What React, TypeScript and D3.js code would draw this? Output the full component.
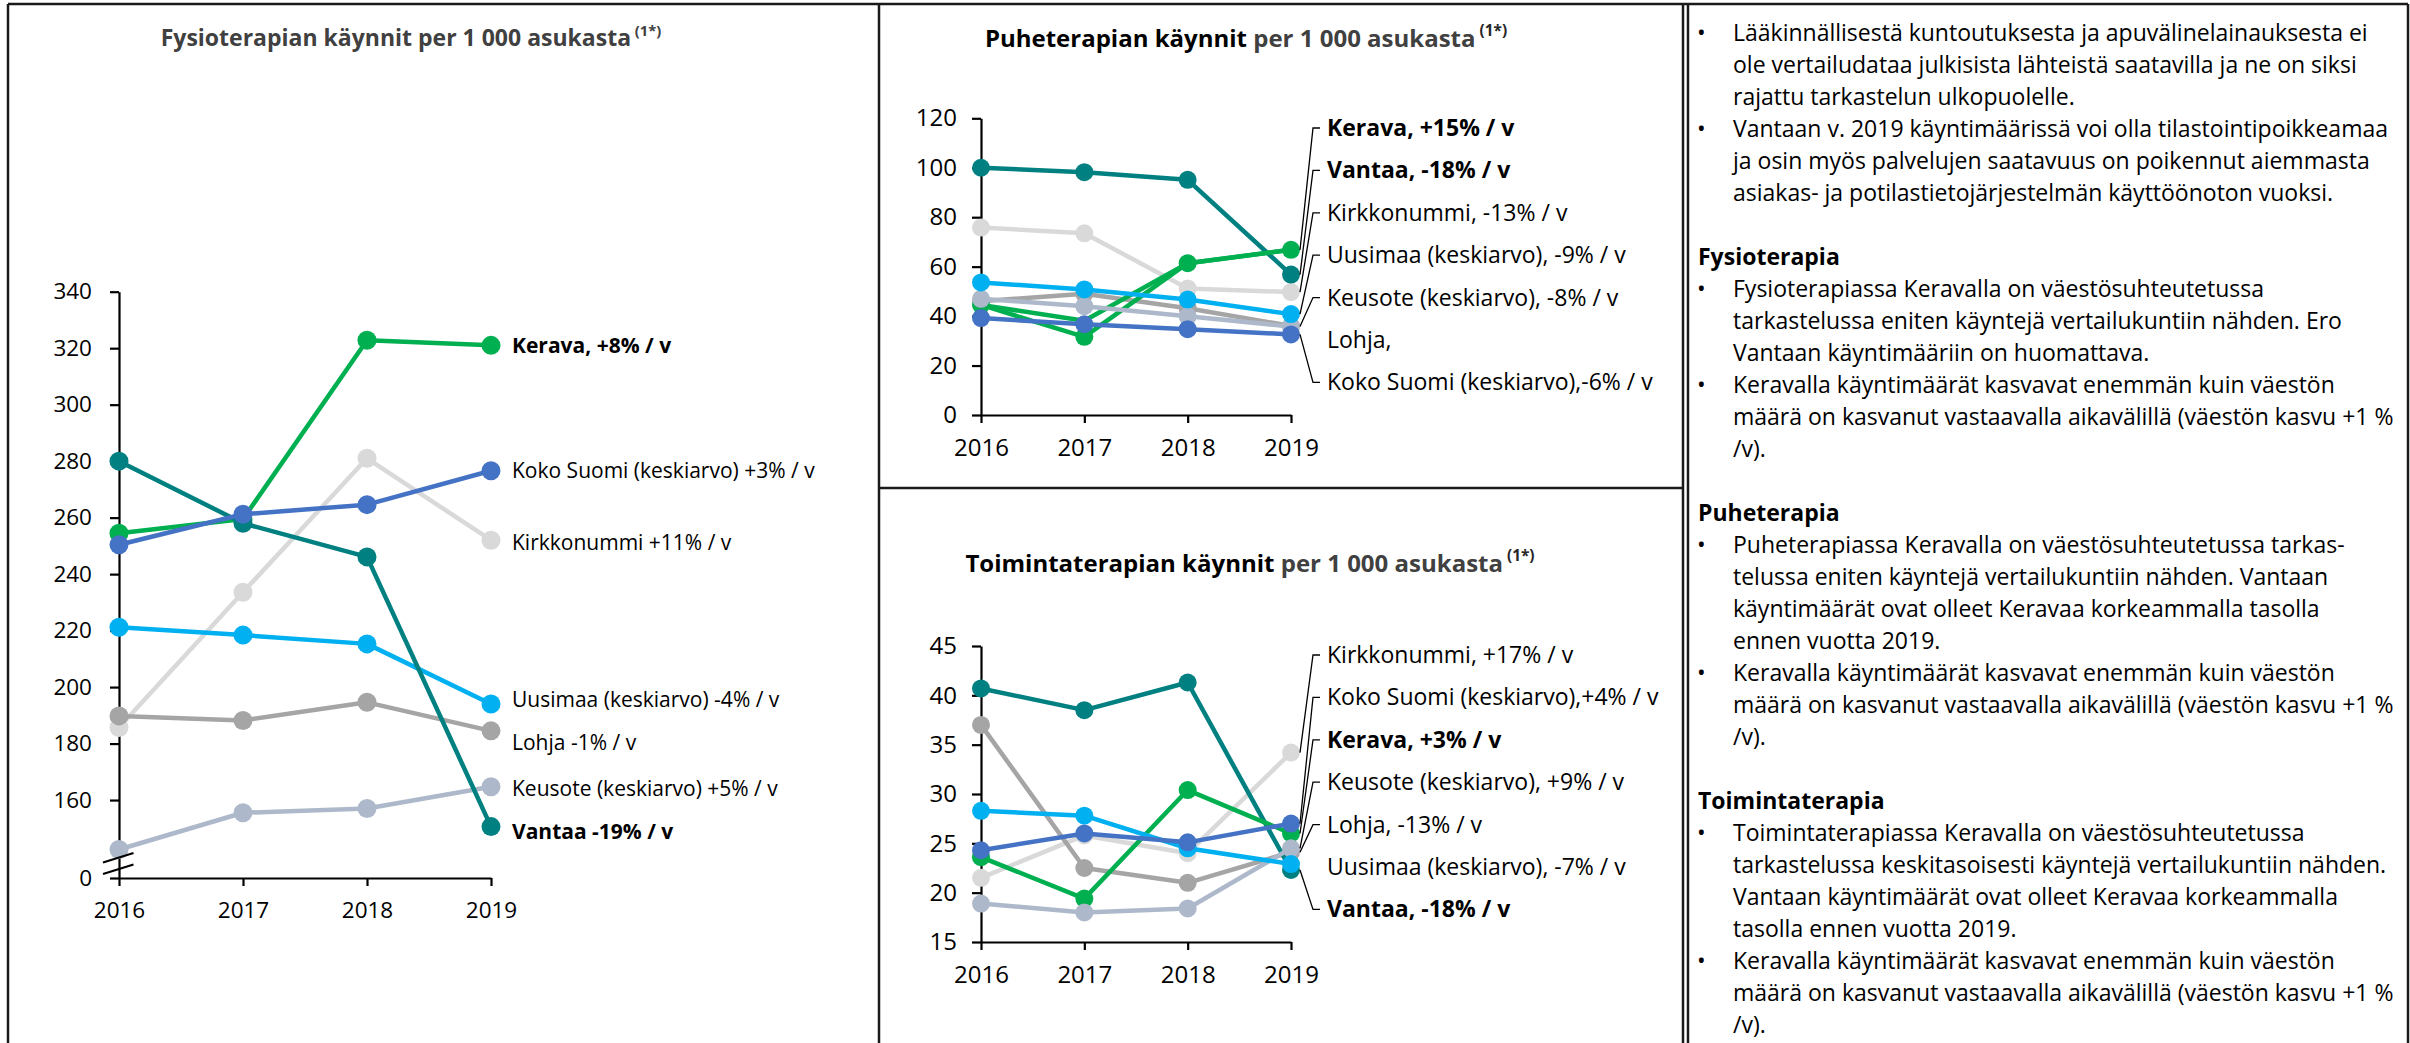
import React, { useEffect, useRef } from 'react';
import * as d3 from 'd3';

// ---------- data ----------
const YEARS = ['2016', '2017', '2018', '2019'];

// Fysioterapian käynnit per 1 000 asukasta
const FYSIO_KERAVA = [254.5, 259.5, 322.8, 321.0];
const FYSIO_KOKO_SUOMI = [250.4, 261.2, 264.6, 276.6];
const FYSIO_KIRKKONUMMI = [185.7, 233.6, 281.0, 252.0];
const FYSIO_UUSIMAA = [221.2, 218.4, 215.3, 194.0];
const FYSIO_LOHJA = [189.8, 188.2, 194.6, 184.5];
const FYSIO_KEUSOTE = [142.5, 155.5, 157.0, 164.7];
const FYSIO_VANTAA = [280.0, 258.0, 246.1, 150.6];
const FYSIO_Y_TICKS = [160, 180, 200, 220, 240, 260, 280, 300, 320, 340];
const FYSIO_Y_BREAK = 132.4; // axis floor, labelled "0" (broken axis)

// Puheterapian käynnit per 1 000 asukasta
const PUHE_KERAVA = [44.5, 31.6, 61.4, 66.8];
const PUHE_KERAVA_B = [44.5, 38.1, 61.4, 66.8];
const PUHE_VANTAA = [100.0, 98.2, 95.1, 56.8];
const PUHE_KIRKKONUMMI = [75.8, 73.5, 51.2, 49.7];
const PUHE_UUSIMAA = [53.6, 50.8, 46.7, 40.8];
const PUHE_KEUSOTE = [47.0, 44.0, 39.9, 35.8];
const PUHE_LOHJA = [46.0, 49.0, 43.2, 36.0];
const PUHE_KOKO_SUOMI = [39.2, 36.7, 34.7, 32.6];
const PUHE_Y_TICKS = [0, 20, 40, 60, 80, 100, 120];

// Toimintaterapian käynnit per 1 000 asukasta
const TOIM_KIRKKONUMMI = [21.5, 25.8, 24.0, 34.2];
const TOIM_KOKO_SUOMI = [24.3, 26.0, 25.1, 27.0];
const TOIM_KERAVA = [23.6, 19.4, 30.4, 26.0];
const TOIM_KEUSOTE = [18.9, 18.0, 18.4, 24.5];
const TOIM_LOHJA = [37.0, 22.5, 21.0, 24.1];
const TOIM_UUSIMAA = [28.3, 27.8, 24.5, 22.9];
const TOIM_VANTAA = [40.7, 38.5, 41.3, 22.3];
const TOIM_Y_TICKS = [15, 20, 25, 30, 35, 40, 45];

// series labels
const FYSIO_LABELS = {
  Kerava: 'Kerava, +8% / v',
  Koko: 'Koko Suomi (keskiarvo) +3% / v',
  Kirkkonummi: 'Kirkkonummi +11% / v',
  Uusimaa: 'Uusimaa (keskiarvo) -4% / v',
  Lohja: 'Lohja -1% / v',
  Keusote: 'Keusote (keskiarvo) +5% / v',
  Vantaa: 'Vantaa -19% / v',
};
const PUHE_LABELS = [
  'Kerava, +15% / v',
  'Vantaa, -18% / v',
  'Kirkkonummi, -13% / v',
  'Uusimaa (keskiarvo), -9% / v',
  'Keusote (keskiarvo), -8% / v',
  'Lohja,',
  'Koko Suomi (keskiarvo),-6% / v',
];
const TOIM_LABELS = [
  'Kirkkonummi, +17% / v',
  'Koko Suomi (keskiarvo),+4% / v',
  'Kerava, +3% / v',
  'Keusote (keskiarvo), +9% / v',
  'Lohja, -13% / v',
  'Uusimaa (keskiarvo), -7% / v',
  'Vantaa, -18% / v',
];

const NOTES: { t: string; k: 'b' | 'c' | 'h' | 'e' }[] = [
  { t: 'Lääkinnällisestä kuntoutuksesta ja apuvälinelainauksesta ei', k: 'b' },
  { t: 'ole vertailudataa julkisista lähteistä saatavilla ja ne on siksi', k: 'c' },
  { t: 'rajattu tarkastelun ulkopuolelle.', k: 'c' },
  { t: 'Vantaan v. 2019 käyntimäärissä voi olla tilastointipoikkeamaa', k: 'b' },
  { t: 'ja osin myös palvelujen saatavuus on poikennut aiemmasta', k: 'c' },
  { t: 'asiakas- ja potilastietojärjestelmän käyttöönoton vuoksi.', k: 'c' },
  { t: '', k: 'e' },
  { t: 'Fysioterapia', k: 'h' },
  { t: 'Fysioterapiassa Keravalla on väestösuhteutetussa', k: 'b' },
  { t: 'tarkastelussa eniten käyntejä vertailukuntiin nähden. Ero', k: 'c' },
  { t: 'Vantaan käyntimääriin on huomattava.', k: 'c' },
  { t: 'Keravalla käyntimäärät kasvavat enemmän kuin väestön', k: 'b' },
  { t: 'määrä on kasvanut vastaavalla aikavälillä (väestön kasvu +1 %', k: 'c' },
  { t: '/v).', k: 'c' },
  { t: '', k: 'e' },
  { t: 'Puheterapia', k: 'h' },
  { t: 'Puheterapiassa Keravalla on väestösuhteutetussa tarkas-', k: 'b' },
  { t: 'telussa eniten käyntejä vertailukuntiin nähden. Vantaan', k: 'c' },
  { t: 'käyntimäärät ovat olleet Keravaa korkeammalla tasolla', k: 'c' },
  { t: 'ennen vuotta 2019.', k: 'c' },
  { t: 'Keravalla käyntimäärät kasvavat enemmän kuin väestön', k: 'b' },
  { t: 'määrä on kasvanut vastaavalla aikavälillä (väestön kasvu +1 %', k: 'c' },
  { t: '/v).', k: 'c' },
  { t: '', k: 'e' },
  { t: 'Toimintaterapia', k: 'h' },
  { t: 'Toimintaterapiassa Keravalla on väestösuhteutetussa', k: 'b' },
  { t: 'tarkastelussa keskitasoisesti käyntejä vertailukuntiin nähden.', k: 'c' },
  { t: 'Vantaan käyntimäärät ovat olleet Keravaa korkeammalla', k: 'c' },
  { t: 'tasolla ennen vuotta 2019.', k: 'c' },
  { t: 'Keravalla käyntimäärät kasvavat enemmän kuin väestön', k: 'b' },
  { t: 'määrä on kasvanut vastaavalla aikavälillä (väestön kasvu +1 %', k: 'c' },
  { t: '/v).', k: 'c' },
];

// ---------- styles ----------
const COL = {
  Kerava: '#00B050',
  Vantaa: '#008080',
  Koko: '#4472C4',
  Kirkkonummi: '#D9D9D9',
  Uusimaa: '#00B0F0',
  Lohja: '#A5A5A5',
  Keusote: '#ADB9CA',
};
const FONT = "'Open Sans', 'DejaVu Sans', sans-serif";
const NOTE_SIZE = 23;
const LEFT_LABEL = 21;
const MID_LABEL = 23;

type Series = { key: keyof typeof COL; values: number[]; marker?: boolean };

type ChartCfg = {
  x0: number;
  x1: number;
  yTop: number;
  yBottom: number;
  yDomain: [number, number];
  yTicks: number[];
  yFormat: (d: number) => string;
  series: Series[];
  lineW: number;
  r: number;
  tickSize: number;
  yPad: number;
};

type G = d3.Selection<SVGGElement, unknown, null, undefined>;

function drawChart(root: G, cfg: ChartCfg) {
  const x = d3.scalePoint<string>().domain(YEARS).range([cfg.x0, cfg.x1]);
  const y = d3.scaleLinear().domain(cfg.yDomain).range([cfg.yBottom, cfg.yTop]);

  const ya = root
    .append('g')
    .attr('transform', `translate(${cfg.x0},0)`)
    .call(
      d3
        .axisLeft(y)
        .tickValues(cfg.yTicks)
        .tickFormat((d) => cfg.yFormat(d as number))
        .tickSize(9)
        .tickSizeOuter(0)
        .tickPadding(cfg.yPad)
    );
  const xa = root
    .append('g')
    .attr('transform', `translate(0,${cfg.yBottom})`)
    .call(d3.axisBottom(x).tickSize(8).tickSizeOuter(0).tickPadding(16));
  [ya, xa].forEach((a) => {
    a.selectAll('path.domain').attr('stroke', '#000').attr('stroke-width', 2.2);
    a.selectAll('.tick line').attr('stroke', '#000').attr('stroke-width', 2.2);
    a.selectAll('.tick text')
      .attr('fill', '#000')
      .attr('font-family', FONT)
      .attr('font-size', cfg.tickSize);
  });

  const line = d3
    .line<number>()
    .x((_, i) => x(YEARS[i]) as number)
    .y((d) => y(d));

  cfg.series.forEach((s) => {
    const g = root.append('g');
    g.append('path')
      .attr('d', line(s.values) as string)
      .attr('fill', 'none')
      .attr('stroke', COL[s.key])
      .attr('stroke-width', cfg.lineW)
      .attr('stroke-linejoin', 'round');
    if (s.marker !== false) {
      g.selectAll('circle')
        .data(s.values)
        .join('circle')
        .attr('cx', (_, i) => x(YEARS[i]) as number)
        .attr('cy', (d) => y(d))
        .attr('r', cfg.r)
        .attr('fill', COL[s.key]);
    }
  });
  return { x, y };
}

function title(root: G, cx: number, by: number, size: number, dark: string, grey: string, allGrey: boolean) {
  const t = root
    .append('text')
    .attr('x', cx)
    .attr('y', by)
    .attr('text-anchor', 'middle')
    .attr('font-family', FONT)
    .attr('font-weight', 700)
    .attr('font-size', size);
  t.append('tspan').attr('fill', allGrey ? '#404040' : '#000').text(dark);
  t.append('tspan').attr('fill', '#404040').text(' ' + grey);
  t.append('tspan')
    .attr('fill', allGrey ? '#404040' : '#262626')
    .attr('font-size', size * 0.64)
    .attr('dy', -size * 0.45)
    .text(' (1*)');
}

function labelsWithLeaders(
  root: G,
  labels: string[],
  ends: (number | null)[],
  y: d3.ScaleLinear<number, number>,
  startY: number,
  boldIdx: number[]
) {
  const lx = 1327;
  const g = root.append('g');
  labels.forEach((t, i) => {
    const ly = startY + i * 42.4;
    const v = ends[i];
    if (v !== null) {
      g.append('path')
        .attr('d', `M${lx - 7},${ly}H${lx - 14}L${1300},${y(v)}`)
        .attr('fill', 'none')
        .attr('stroke', '#000')
        .attr('stroke-width', 1.3);
    }
    g.append('text')
      .attr('x', lx)
      .attr('y', ly)
      .attr('dy', '0.35em')
      .attr('font-family', FONT)
      .attr('font-size', MID_LABEL)
      .attr('font-weight', boldIdx.includes(i) ? 700 : 400)
      .attr('fill', '#000')
      .text(t);
  });
}

export default function App() {
  const ref = useRef<SVGSVGElement>(null);

  useEffect(() => {
    const svg = d3.select(ref.current as SVGSVGElement);
    svg.selectAll('*').remove();
    const root = svg.append('g') as G;

    // frames
    const frame = root.append('g').attr('stroke', '#1a1a1a').attr('stroke-width', 2.5).attr('fill', 'none');
    frame.append('line').attr('x1', 8).attr('x2', 2408).attr('y1', 4).attr('y2', 4);
    frame.append('line').attr('x1', 8).attr('x2', 8).attr('y1', 4).attr('y2', 1043);
    frame.append('line').attr('x1', 879).attr('x2', 879).attr('y1', 4).attr('y2', 1043);
    frame.append('line').attr('x1', 1683).attr('x2', 1683).attr('y1', 4).attr('y2', 1043);
    frame.append('line').attr('x1', 1688).attr('x2', 1688).attr('y1', 4).attr('y2', 1043);
    frame.append('line').attr('x1', 2408).attr('x2', 2408).attr('y1', 4).attr('y2', 1043);
    frame.append('line').attr('x1', 879).attr('x2', 1683).attr('y1', 488).attr('y2', 488);

    // ---------- Fysioterapia ----------
    title(root, 411, 46, 23, 'Fysioterapian käynnit', 'per 1 000 asukasta', true);
    const fy = drawChart(root, {
      x0: 119,
      x1: 491,
      yTop: 291.7,
      yBottom: 878,
      yDomain: [FYSIO_Y_BREAK, 340],
      yTicks: [FYSIO_Y_BREAK, ...FYSIO_Y_TICKS],
      yFormat: (d) => (d === FYSIO_Y_BREAK ? '0' : String(d)),
      lineW: 4.5,
      r: 9.5,
      tickSize: 22.5,
      yPad: 18,
      series: [
        { key: 'Kirkkonummi', values: FYSIO_KIRKKONUMMI },
        { key: 'Lohja', values: FYSIO_LOHJA },
        { key: 'Keusote', values: FYSIO_KEUSOTE },
        { key: 'Uusimaa', values: FYSIO_UUSIMAA },
        { key: 'Kerava', values: FYSIO_KERAVA },
        { key: 'Vantaa', values: FYSIO_VANTAA },
        { key: 'Koko', values: FYSIO_KOKO_SUOMI },
      ],
    });
    // axis break marks
    const brk = root.append('g').attr('stroke', '#000').attr('stroke-width', 2.2);
    [0, 11.5].forEach((o) => {
      brk
        .append('line')
        .attr('x1', 103)
        .attr('y1', 862.5 + o)
        .attr('x2', 133.5)
        .attr('y2', 853 + o);
    });
    const fysioLast: [keyof typeof FYSIO_LABELS, number, number][] = [
      ['Kerava', FYSIO_KERAVA[3], 0],
      ['Koko', FYSIO_KOKO_SUOMI[3], 0],
      ['Kirkkonummi', FYSIO_KIRKKONUMMI[3], 2],
      ['Uusimaa', FYSIO_UUSIMAA[3], -4],
      ['Lohja', FYSIO_LOHJA[3], 12],
      ['Keusote', FYSIO_KEUSOTE[3], 2],
      ['Vantaa', FYSIO_VANTAA[3], 5],
    ];
    fysioLast.forEach(([k, v, nudge]) => {
      root
        .append('text')
        .attr('x', (fy.x('2019') as number) + 21)
        .attr('y', fy.y(v) + nudge)
        .attr('dy', '0.35em')
        .attr('font-family', FONT)
        .attr('font-size', LEFT_LABEL)
        .attr('font-weight', k === 'Kerava' || k === 'Vantaa' ? 700 : 400)
        .attr('fill', '#000')
        .text(FYSIO_LABELS[k]);
    });

    // ---------- Puheterapia ----------
    title(root, 1246, 47, 24, 'Puheterapian käynnit', 'per 1 000 asukasta', false);
    const pu = drawChart(root, {
      x0: 981,
      x1: 1291,
      yTop: 118.3,
      yBottom: 415,
      yDomain: [0, 120],
      yTicks: PUHE_Y_TICKS,
      yFormat: (d) => String(d),
      lineW: 4.5,
      r: 9,
      tickSize: 24,
      yPad: 15,
      series: [
        { key: 'Kirkkonummi', values: PUHE_KIRKKONUMMI },
        { key: 'Lohja', values: PUHE_LOHJA },
        { key: 'Vantaa', values: PUHE_VANTAA },
        { key: 'Kerava', values: PUHE_KERAVA_B, marker: false },
        { key: 'Kerava', values: PUHE_KERAVA },
        { key: 'Keusote', values: PUHE_KEUSOTE },
        { key: 'Uusimaa', values: PUHE_UUSIMAA },
        { key: 'Koko', values: PUHE_KOKO_SUOMI },
      ],
    });
    const puheEnds = [
      PUHE_KERAVA[3],
      PUHE_VANTAA[3],
      PUHE_KIRKKONUMMI[3],
      PUHE_UUSIMAA[3],
      PUHE_KEUSOTE[3],
      null,
      PUHE_KOKO_SUOMI[3],
    ];
    labelsWithLeaders(root, PUHE_LABELS, puheEnds, pu.y, 128, [0, 1]);

    // ---------- Toimintaterapia ----------
    title(root, 1250, 572, 24, 'Toimintaterapian käynnit', 'per 1 000 asukasta', false);
    const to = drawChart(root, {
      x0: 981,
      x1: 1291,
      yTop: 646,
      yBottom: 942,
      yDomain: [15, 45],
      yTicks: TOIM_Y_TICKS,
      yFormat: (d) => String(d),
      lineW: 4.5,
      r: 9,
      tickSize: 24,
      yPad: 15,
      series: [
        { key: 'Kirkkonummi', values: TOIM_KIRKKONUMMI },
        { key: 'Lohja', values: TOIM_LOHJA },
        { key: 'Vantaa', values: TOIM_VANTAA },
        { key: 'Kerava', values: TOIM_KERAVA },
        { key: 'Keusote', values: TOIM_KEUSOTE },
        { key: 'Uusimaa', values: TOIM_UUSIMAA },
        { key: 'Koko', values: TOIM_KOKO_SUOMI },
      ],
    });
    const toimEnds = [
      TOIM_KIRKKONUMMI[3],
      TOIM_KOKO_SUOMI[3],
      TOIM_KERAVA[3],
      TOIM_KEUSOTE[3],
      TOIM_LOHJA[3],
      null,
      TOIM_VANTAA[3],
    ];
    labelsWithLeaders(root, TOIM_LABELS, toimEnds, to.y, 655, [2, 6]);

    // ---------- notes ----------
    const notes = root.append('g').attr('font-family', FONT).attr('font-size', NOTE_SIZE).attr('fill', '#000');
    NOTES.forEach((n, i) => {
      const cy = 33 + i * 32 + 8;
      if (n.k === 'e') return;
      if (n.k === 'h') {
        notes.append('text').attr('x', 1698).attr('y', cy).attr('font-weight', 700).text(n.t);
        return;
      }
      if (n.k === 'b') notes.append('text').attr('x', 1697).attr('y', cy).text('•');
      notes.append('text').attr('x', 1733).attr('y', cy).text(n.t);
    });
  }, []);

  return (
    <svg
      ref={ref}
      width={2410}
      height={1043}
      style={{ position: 'absolute', left: 0, top: 0, background: '#fff' }}
    />
  );
}
